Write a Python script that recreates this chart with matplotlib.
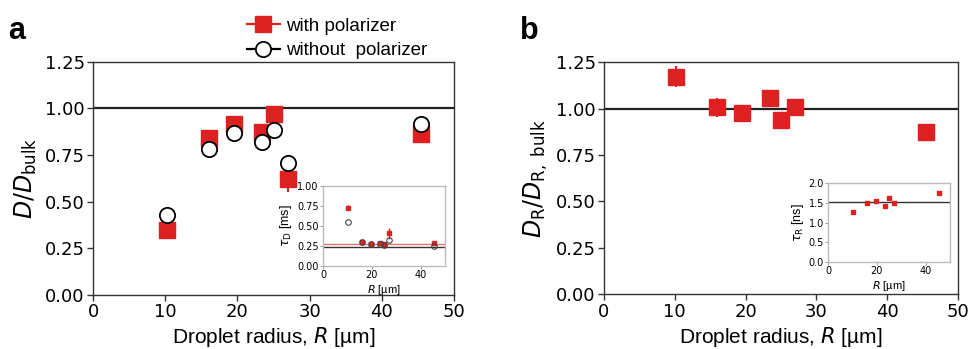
import matplotlib
matplotlib.use('Agg')
import matplotlib.pyplot as plt
from matplotlib.lines import Line2D

# droplet radii [um]
radius = [10.2, 16.0, 19.5, 23.4, 25.0, 27.0, 45.5]

# panel a: D/D_bulk
d_with = [0.35, 0.84, 0.915, 0.873, 0.97, 0.623, 0.861]
d_with_err = [0.02, 0.02, 0.02, 0.02, 0.02, 0.07, 0.02]
d_without = [0.427, 0.784, 0.866, 0.818, 0.886, 0.707, 0.914]

# inset a: tau_D [ms]
tau_d_with = [0.73, 0.30, 0.28, 0.29, 0.27, 0.41, 0.29]
tau_d_with_err = [0.03, 0.01, 0.01, 0.01, 0.01, 0.07, 0.01]
tau_d_without = [0.55, 0.30, 0.27, 0.28, 0.26, 0.33, 0.25]
tau_d_bulk_with = 0.27
tau_d_bulk_without = 0.24

# panel b: D_R/D_R,bulk
dr = [1.172, 1.006, 0.974, 1.058, 0.939, 1.006, 0.872]
dr_err = [0.055, 0.05, 0.02, 0.02, 0.03, 0.03, 0.04]

# inset b: tau_R [ns]
tau_r = [1.28, 1.50, 1.55, 1.43, 1.62, 1.50, 1.74]
tau_r_bulk = 1.52

RED = '#dd2020'
SPINE = '#333333'
LABEL_FONT = ['Liberation Sans', 'DejaVu Sans']

fig = plt.figure(figsize=(9.69, 3.49), dpi=100)


def style_main(ax):
    ax.set_xlim(0, 50)
    ax.set_ylim(0, 1.25)
    ax.set_xticks([0, 10, 20, 30, 40, 50])
    ax.set_yticks([0, 0.25, 0.5, 0.75, 1.0, 1.25])
    ax.set_yticklabels(['0.00', '0.25', '0.50', '0.75', '1.00', '1.25'])
    ax.tick_params(labelsize=13, length=4, width=1, color=SPINE, pad=2)
    for s in ax.spines.values():
        s.set_color(SPINE)
        s.set_linewidth(1.0)
    ax.axhline(1.0, color='#222222', lw=1.6, zorder=1)
    ax.set_xlabel('Droplet radius, $R$ [µm]', fontsize=15, family=LABEL_FONT, labelpad=3)


def style_inset(ax, ylim, yticks, ylabels, ylabel):
    ax.set_xlim(0, 50)
    ax.set_ylim(*ylim)
    ax.set_xticks([0, 20, 40])
    ax.set_yticks(yticks)
    ax.set_yticklabels(ylabels)
    ax.tick_params(labelsize=7, length=2, width=0.6, color='#888888', pad=1)
    for s in ax.spines.values():
        s.set_color('#bbbbbb')
        s.set_linewidth(1.0)
    ax.set_xlabel('$R$ [µm]', fontsize=8, family=LABEL_FONT, labelpad=2)
    ax.set_ylabel(ylabel, fontsize=9, family=LABEL_FONT, labelpad=2)


# ---- panel a ----
ax1 = fig.add_axes([0.096, 0.155, 0.3725, 0.668])
style_main(ax1)
ax1.errorbar(radius, d_with, yerr=d_with_err, fmt='s', color=RED, ms=11,
             elinewidth=1.5, capsize=0, zorder=3)
ax1.plot(radius, d_without, 'o', mfc='white', mec='black', mew=1.3, ms=11, zorder=4)
ax1.set_ylabel('$D/D_{\\mathrm{bulk}}$', fontsize=17, family=LABEL_FONT, labelpad=4)

ins1 = fig.add_axes([0.3333, 0.238, 0.1259, 0.229])
style_inset(ins1, (0, 1.0), [0, 0.25, 0.5, 0.75, 1.0],
            ['0.00', '0.25', '0.50', '0.75', '1.00'], '$\\tau_{\\mathrm{D}}$ [ms]')
ins1.axhline(tau_d_bulk_with, color='#f07070', lw=1.0, zorder=1)
ins1.axhline(tau_d_bulk_without, color='#333333', lw=1.0, zorder=1)
ins1.errorbar(radius, tau_d_with, yerr=tau_d_with_err, fmt='s', color=RED, ms=3.5,
              elinewidth=1.0, capsize=0, zorder=3)
ins1.plot(radius, tau_d_without, 'o', mfc='none', mec='#444444', mew=0.8, ms=4, zorder=4)

# legend
handles = [Line2D([], [], color=RED, marker='s', ms=11, lw=1.6),
           Line2D([], [], color='black', marker='o', mfc='white', mec='black',
                  mew=1.3, ms=11, lw=1.6)]
fig.legend(handles, ['with polarizer', 'without  polarizer'], loc='upper left',
           bbox_to_anchor=(0.237, 0.998), frameon=False, handlelength=1.8,
           handletextpad=0.3, labelspacing=0.4, prop={'family': LABEL_FONT, 'size': 13.5})

# ---- panel b ----
ax2 = fig.add_axes([0.6233, 0.157, 0.3655, 0.665])
style_main(ax2)
ax2.errorbar(radius, dr, yerr=dr_err, fmt='s', color=RED, ms=11,
             elinewidth=1.5, capsize=0, zorder=3)
ax2.set_ylabel('$D_{\\mathrm{R}}/D_{\\mathrm{R,\\ bulk}}$', fontsize=17,
               family=LABEL_FONT, labelpad=4)

ins2 = fig.add_axes([0.8545, 0.249, 0.1259, 0.226])
style_inset(ins2, (0, 2.0), [0, 0.5, 1.0, 1.5, 2.0],
            ['0.0', '0.5', '1.0', '1.5', '2.0'], '$\\tau_{\\mathrm{R}}$ [ns]')
ins2.axhline(tau_r_bulk, color='#333333', lw=1.0, zorder=1)
ins2.plot(radius, tau_r, 's', color=RED, ms=3.5, zorder=3)

# panel letters
fig.text(0.008, 0.955, 'a', fontsize=22, fontweight='bold', family=LABEL_FONT, va='top')
fig.text(0.537, 0.955, 'b', fontsize=22, fontweight='bold', family=LABEL_FONT, va='top')

fig.savefig('out.png', dpi=100)
